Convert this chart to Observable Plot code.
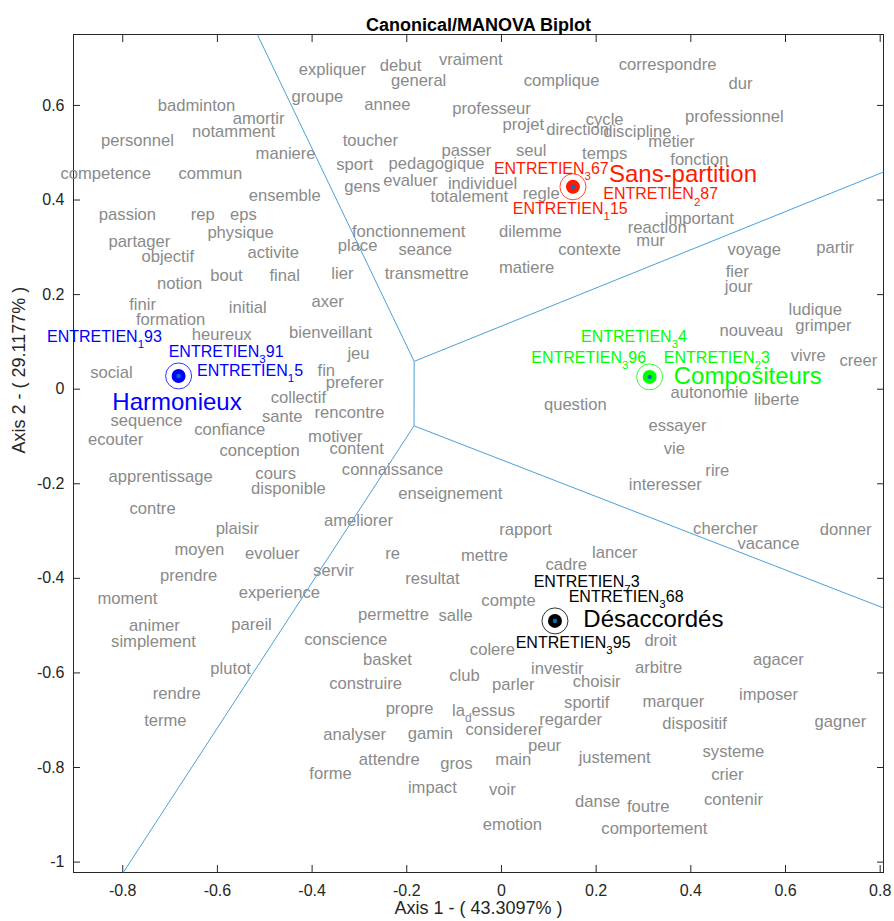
<!DOCTYPE html>
<html><head><meta charset="utf-8">
<script src="https://cdn.jsdelivr.net/npm/d3@7"></script>
<script src="https://cdn.jsdelivr.net/npm/@observablehq/plot@0.6"></script>
<style>body{margin:0;background:#fff}</style>
</head><body><div id="chart"></div>
<script>
const xTicks = [-0.8,-0.6,-0.4,-0.2,0,0.2,0.4,0.6,0.8];
const yTicks = [-1,-0.8,-0.6,-0.4,-0.2,0,0.2,0.4,0.6];

const words = ["expliquer","debut","vraiment","general","complique","correspondre","dur","groupe","annee","professeur",
"badminton","amortir","notamment","personnel","maniere","toucher","projet","direction","cycle","discipline",
"metier","professionnel","passer","seul","temps","fonction","competence","commun","sport","pedagogique",
"gens","evaluer","individuel","regle","totalement","ensemble","passion","rep","eps","physique",
"fonctionnement","dilemme","reaction","important","partager","objectif","activite","place","seance","contexte",
"mur","matiere","transmettre","voyage","partir","notion","bout","final","lier","fier",
"jour","axer","finir","initial","formation","ludique","grimper","heureux","bienveillant","nouveau",
"jeu","fin","preferer","social","vivre","creer","collectif","rencontre","sante","autonomie",
"liberte","question","sequence","ecouter","confiance","motiver","conception","content","essayer","vie",
"connaissance","apprentissage","cours","disponible","enseignement","rire","interesser","contre","plaisir","ameliorer",
"rapport","chercher","donner","vacance","moyen","evoluer","re","mettre","lancer","cadre",
"servir","prendre","resultat","moment","experience","compte","permettre","salle","animer","pareil",
"simplement","conscience","droit","colere","basket","club","investir","arbitre","agacer","plutot",
"choisir","construire","parler","rendre","sportif","marquer","imposer","propre","la_dessus","regarder",
"gagner","dispositif","analyser","gamin","considerer","peur","systeme","attendre","gros","main",
"justement","forme","crier","impact","voir","danse","foutre","contenir","emotion","comportement",
"terme"];

const wordX = [-0.357,-0.213,-0.065,-0.175,0.127,0.351,0.505,-0.389,-0.241,-0.021,
-0.644,-0.513,-0.566,-0.769,-0.456,-0.277,0.046,0.161,0.218,0.287,
0.359,0.492,-0.074,0.063,0.218,0.418,-0.836,-0.615,-0.310,-0.137,
-0.294,-0.192,-0.040,0.084,-0.068,-0.458,-0.790,-0.631,-0.545,-0.551,
-0.196,0.061,0.329,0.418,-0.765,-0.705,-0.482,-0.304,-0.161,0.186,
0.315,0.053,-0.158,0.534,0.705,-0.680,-0.581,-0.458,-0.336,0.498,
0.501,-0.367,-0.758,-0.536,-0.699,0.663,0.680,-0.591,-0.361,0.528,
-0.302,-0.370,-0.310,-0.824,0.648,0.754,-0.429,-0.321,-0.463,0.439,
0.581,0.156,-0.750,-0.815,-0.574,-0.351,-0.511,-0.306,0.372,0.365,
-0.230,-0.720,-0.477,-0.450,-0.108,0.456,0.346,-0.737,-0.558,-0.302,
0.051,0.473,0.727,0.564,-0.638,-0.484,-0.230,-0.036,0.239,0.137,
-0.355,-0.661,-0.146,-0.790,-0.469,0.015,-0.228,-0.097,-0.733,-0.528,
-0.735,-0.329,0.336,-0.019,-0.241,-0.078,0.118,0.332,0.585,-0.572,
0.201,-0.287,0.025,-0.686,0.180,0.363,0.564,-0.194,-0.038,0.146,
0.716,0.408,-0.310,-0.150,0.006,0.091,0.490,-0.237,-0.095,0.025,
0.239,-0.361,0.477,-0.146,0.002,0.203,0.310,0.490,0.023,0.323,
-0.710];

const wordY = [0.676,0.683,0.696,0.653,0.653,0.687,0.647,0.619,0.602,0.594,
0.600,0.573,0.545,0.526,0.499,0.526,0.560,0.548,0.569,0.545,
0.524,0.577,0.505,0.505,0.499,0.486,0.455,0.455,0.474,0.476,
0.429,0.440,0.435,0.414,0.406,0.410,0.370,0.370,0.370,0.330,
0.334,0.332,0.342,0.361,0.311,0.281,0.288,0.304,0.294,0.296,
0.315,0.256,0.245,0.294,0.300,0.224,0.239,0.239,0.245,0.249,
0.216,0.184,0.178,0.173,0.146,0.169,0.135,0.116,0.120,0.123,
0.076,0.040,0.013,0.034,0.070,0.061,-0.019,-0.049,-0.059,-0.008,
-0.023,-0.032,-0.066,-0.106,-0.085,-0.101,-0.131,-0.125,-0.078,-0.125,
-0.171,-0.184,-0.178,-0.211,-0.222,-0.173,-0.203,-0.252,-0.294,-0.279,
-0.298,-0.294,-0.298,-0.326,-0.340,-0.347,-0.347,-0.353,-0.345,-0.372,
-0.383,-0.395,-0.400,-0.442,-0.431,-0.448,-0.476,-0.480,-0.501,-0.499,
-0.533,-0.529,-0.532,-0.550,-0.571,-0.605,-0.590,-0.588,-0.571,-0.592,
-0.619,-0.622,-0.624,-0.643,-0.662,-0.660,-0.647,-0.676,-0.679,-0.698,
-0.704,-0.708,-0.731,-0.729,-0.719,-0.753,-0.767,-0.784,-0.791,-0.784,
-0.780,-0.812,-0.816,-0.843,-0.846,-0.873,-0.882,-0.867,-0.920,-0.930,
-0.700];

const groupNames = ["Harmonieux","Sans-partition","Compositeurs","Désaccordés"];
const groupColors = ["#0000ff","#ff1a00","#00ff00","#000000"];
const groupX = [-0.682, 0.151, 0.313, 0.113];
const groupY = [0.028, 0.428, 0.026, -0.490];
const groupLabelX = [-0.822, 0.227, 0.364, 0.173];
const groupLabelY = [-0.027, 0.454, 0.028, -0.487];

const interviewLabels = ["ENTRETIEN_193","ENTRETIEN_391","ENTRETIEN_15",
  "ENTRETIEN_367","ENTRETIEN_287","ENTRETIEN_115",
  "ENTRETIEN_34","ENTRETIEN_396","ENTRETIEN_23",
  "ENTRETIEN_73","ENTRETIEN_368","ENTRETIEN_395"];
const interviewGroup = ["Harmonieux","Harmonieux","Harmonieux",
  "Sans-partition","Sans-partition","Sans-partition",
  "Compositeurs","Compositeurs","Compositeurs",
  "Désaccordés","Désaccordés","Désaccordés"];
const interviewX = [-0.960,-0.703,-0.643,-0.016,0.215,0.024,0.168,0.063,0.343,0.068,0.142,0.030];
const interviewY = [0.111,0.079,0.038,0.465,0.412,0.381,0.111,0.066,0.066,-0.407,-0.439,-0.537];

const wordData = words.map((w,i)=>({w, x: wordX[i], y: wordY[i]}));
const groups = groupNames.map((name,i)=>({name, x: groupX[i], y: groupY[i], lx: groupLabelX[i], ly: groupLabelY[i]}));
const interviews = interviewLabels.map((label,i)=>({label, group: interviewGroup[i], x: interviewX[i], y: interviewY[i]}));

const font = '"Liberation Sans", Arial, Helvetica, sans-serif';
const fmt = d => String(Math.round(d*10)/10);
const blank = () => "";
const ink = "#262626";

const plot = Plot.plot({
  width: 894, height: 921,
  marginLeft: 73, marginRight: 11, marginTop: 34, marginBottom: 49,
  style: {fontFamily: font, fontSize: "16px", color: ink, background: "#fff"},
  x: {domain: [-0.904, 0.807]},
  y: {domain: [-1.022, 0.75]},
  color: {domain: groupNames, range: groupColors},
  marks: [
    Plot.axisX({anchor: "bottom", ticks: xTicks, tickSize: 0, tickPadding: 12, tickFormat: fmt, label: null, fontSize: 16}),
    Plot.axisX({anchor: "bottom", ticks: xTicks, tickSize: 7, dy: -7, tickFormat: blank, label: null}),
    Plot.axisX({anchor: "top", ticks: xTicks, tickSize: 7, dy: 7, tickFormat: blank, label: null}),
    Plot.axisY({anchor: "left", ticks: yTicks, tickSize: 0, tickPadding: 9, tickFormat: fmt, label: null, fontSize: 16}),
    Plot.axisY({anchor: "left", ticks: yTicks, tickSize: 7, dx: 7, tickFormat: blank, label: null}),
    Plot.axisY({anchor: "right", ticks: yTicks, tickSize: 7, dx: -7, tickFormat: blank, label: null}),
    Plot.frame({stroke: ink, strokeWidth: 1}),
    Plot.text(wordData, {x: "x", y: "y", text: "w", fill: "#8a8a8a", fontSize: 16.6}),
    Plot.voronoiMesh(groups, {x: "x", y: "y", stroke: "#4ba0d9", strokeOpacity: 1, strokeWidth: 1}),
    Plot.dot(groups, {x: "x", y: "y", r: 13, stroke: "name", fill: "none", strokeWidth: 0.8}),
    Plot.dot(groups, {x: "x", y: "y", r: 7, fill: "name"}),
    Plot.dot(groups, {x: "x", y: "y", r: 2.2, fill: "#0072bd"}),
    Plot.text(interviews, {x: "x", y: "y", text: "label", fill: "group", textAnchor: "start", fontSize: 16}),
    Plot.text(groups, {x: "lx", y: "ly", text: "name", fill: "name", textAnchor: "start", fontSize: 24}),
    Plot.text(["Canonical/MANOVA Biplot"], {text: d => d, frameAnchor: "top", dy: -16, fontWeight: "bold", fontSize: 18, fill: "#000"}),
    Plot.text(["Axis 1 - ( 43.3097% )"], {text: d => d, frameAnchor: "bottom", dy: 41, fontSize: 18, fill: ink}),
    Plot.text(["Axis 2 - ( 29.1177% )"], {text: d => d, frameAnchor: "left", dx: -54, rotate: -90, fontSize: 18, fill: ink})
  ]
});
document.getElementById("chart").append(plot);

// TeX-like subscripts: "_c" renders c as a subscript
const ns = "http://www.w3.org/2000/svg";
plot.querySelectorAll("text").forEach(t => {
  const s = t.textContent;
  if (!s.includes("_") || t.children.length) return;
  const fs = parseFloat(getComputedStyle(t).fontSize) || 16;
  const sub = fs * 0.72, shift = fs * 0.38;
  t.textContent = "";
  let buf = "", pendingUp = false;
  const flush = () => {
    if (!buf) return;
    const ts = document.createElementNS(ns, "tspan");
    ts.textContent = buf;
    if (pendingUp) { ts.setAttribute("dy", (-shift).toFixed(2)); pendingUp = false; }
    t.appendChild(ts); buf = "";
  };
  for (let i = 0; i < s.length; i++) {
    if (s[i] === "_" && i + 1 < s.length) {
      flush();
      const ts = document.createElementNS(ns, "tspan");
      ts.textContent = s[i + 1];
      ts.setAttribute("dy", shift.toFixed(2));
      ts.setAttribute("font-size", sub.toFixed(2));
      t.appendChild(ts);
      pendingUp = true;
      i++;
    } else buf += s[i];
  }
  flush();
});
</script>
</body></html>
